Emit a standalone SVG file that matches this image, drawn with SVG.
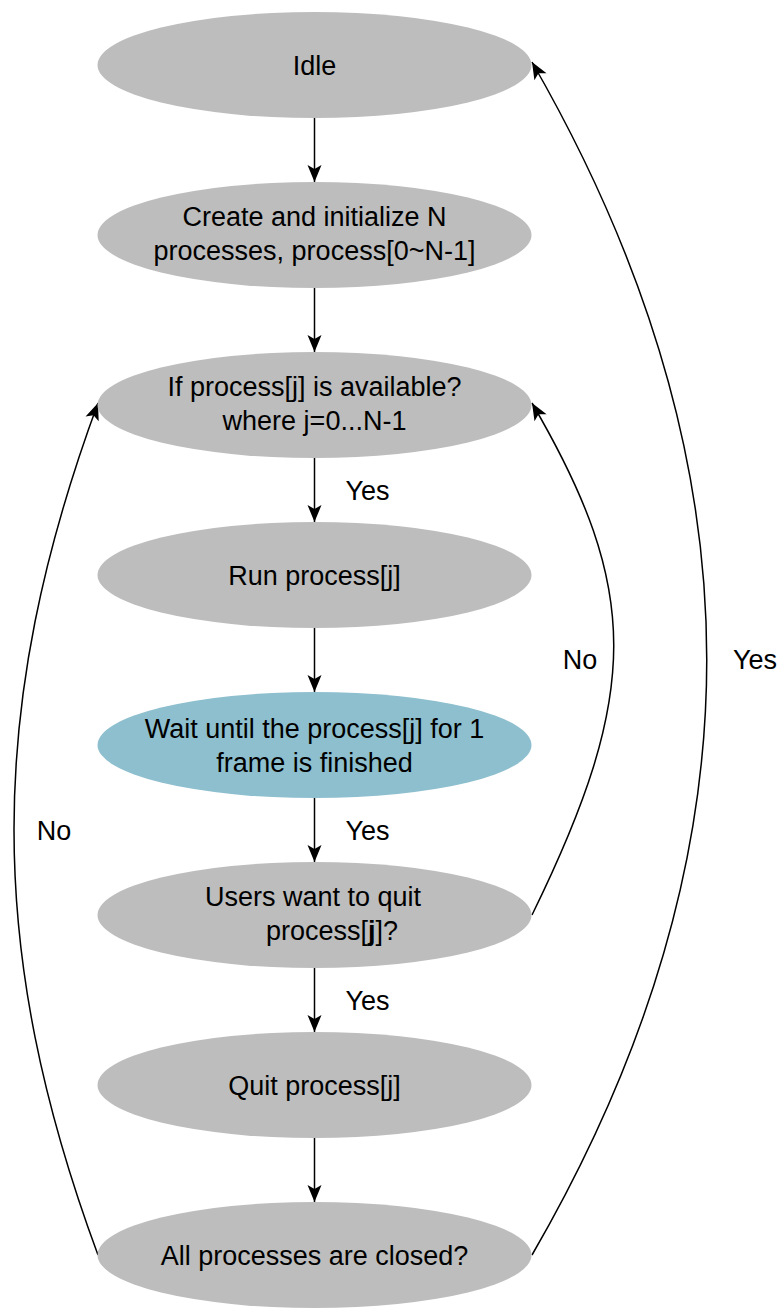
<svg xmlns="http://www.w3.org/2000/svg" width="779" height="1308" viewBox="0 0 779 1308">
<style>
.n{fill:#bdbdbd}
.b{fill:#8dbfce}
text{font-family:"Liberation Sans",Arial,Helvetica,sans-serif;font-size:27px;fill:#000;text-anchor:middle}
.e{fill:none;stroke:#000;stroke-width:1.5;marker-end:url(#ah)}
</style>
<defs>
<marker id="ah" markerUnits="userSpaceOnUse" markerWidth="20" markerHeight="16" refX="17" refY="7" orient="auto" overflow="visible">
<path d="M0,0 L17,7 L0,14 L4,7 Z" fill="#000"/>
</marker>
</defs>
<rect width="779" height="1308" fill="#fff"/>
<g id="connectors">
<path class="e" d="M314.5,118 V182"/>
<path class="e" d="M314.5,288 V352"/>
<path class="e" d="M314.5,458 V522"/>
<path class="e" d="M314.5,628 V692"/>
<path class="e" d="M314.5,798 V862"/>
<path class="e" d="M314.5,968 V1032"/>
<path class="e" d="M314.5,1138 V1202"/>
<path class="e" d="M98,1255 C-14,952 -14,707 98,403"/>
<path class="e" d="M532,915 C641,692 641,590 532,403"/>
<path class="e" d="M532,1255 C765,853 765,467 532,62"/>
</g>
<g id="idle"><ellipse class="n" cx="314.5" cy="65" rx="217" ry="53"/><text x="314.5" y="74.5">Idle</text></g>
<g id="create"><ellipse class="n" cx="314.5" cy="235" rx="217" ry="53"/><text x="314.5" y="226">Create and initialize N</text><text x="314.5" y="260">processes, process[0~N-1]</text></g>
<g id="ifavail"><ellipse class="n" cx="314.5" cy="405" rx="217" ry="53"/><text x="314.5" y="396">If process[j] is available?</text><text x="314.5" y="430">where j=0...N-1</text></g>
<g id="run"><ellipse class="n" cx="314.5" cy="575" rx="217" ry="53"/><text x="314.5" y="584.5">Run process[j]</text></g>
<g id="wait"><ellipse class="b" cx="314.5" cy="745" rx="217" ry="53"/><text x="314.5" y="738">Wait until the process[j] for 1</text><text x="314.5" y="772">frame is finished</text></g>
<g id="users"><ellipse class="n" cx="314.5" cy="915" rx="217" ry="53"/><text x="313" y="906">Users want to quit</text><text x="332" y="940">process[<tspan font-weight="bold">j</tspan>]?</text></g>
<g id="quit"><ellipse class="n" cx="314.5" cy="1085" rx="217" ry="53"/><text x="314.5" y="1094.5">Quit process[j]</text></g>
<g id="allclosed"><ellipse class="n" cx="314.5" cy="1255" rx="217" ry="53"/><text x="314.5" y="1264.5">All processes are closed?</text></g>
<g id="labels">
<text x="367.5" y="500">Yes</text>
<text x="367.5" y="840">Yes</text>
<text x="367.5" y="1010">Yes</text>
<text x="580" y="669">No</text>
<text x="755" y="669">Yes</text>
<text x="54" y="840">No</text>
</g>
</svg>
